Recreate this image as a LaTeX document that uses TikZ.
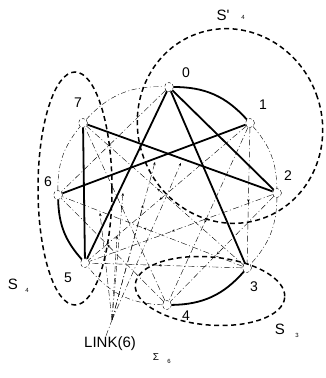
\documentclass[tikz,border=0pt]{standalone}
\usepackage{fontspec}
\setmainfont{Liberation Sans}
\usetikzlibrary{decorations.markings,arrows.meta}
\begin{document}
\begin{tikzpicture}[x=1pt,y=-1pt,
  vtx/.style={circle,draw,densely dashed,line width=0.4pt,minimum size=9pt,inner sep=0pt},
  thickedge/.style={line width=1.8pt},
  thinedge/.style={line width=0.4pt,dash pattern=on 6pt off 2.5pt on 1pt off 2.5pt},
  rim/.style={line width=0.4pt,dash pattern=on 5pt off 2.5pt on 1pt off 2.5pt},
  grp/.style={line width=1.5pt,dash pattern=on 5pt off 3.5pt},
  lbl/.style={font=\fontsize{14}{14}\selectfont,inner sep=0pt},
  glbl/.style={font=\fontsize{15}{15}\selectfont,inner sep=0pt},
  sublbl/.style={font=\fontsize{6}{6}\selectfont,inner sep=0pt},
  marr/.style={postaction={decorate},decoration={markings,mark=at position 0.55 with {\arrow{Stealth[length=3pt,width=2.5pt]}}}},
  tip/.style={-{Stealth[length=3pt,width=2.5pt]}}
]
\useasboundingbox (0,0) rectangle (325,378);

% vertices
\node[vtx] (n0) at (169,87) {};
\node[vtx] (n1) at (250,123) {};
\node[vtx] (n2) at (277,193) {};
\node[vtx] (n3) at (247,268) {};
\node[vtx] (n4) at (167,305) {};
\node[vtx] (n5) at (85,263) {};
\node[vtx] (n6) at (58,195) {};
\node[vtx] (n7) at (83,123) {};

% vertex labels
\node[lbl] (l0) at (186,73) {0};
\node[lbl] (l1) at (263,105) {1};
\node[lbl] (l2) at (288,176) {2};
\node[lbl] (l3) at (254,287) {3};
\node[lbl] (l4) at (186,316) {4};
\node[lbl] (l5) at (68,278) {5};
\node[lbl] (l6) at (48,182) {6};
\node[lbl] (l7) at (78,103) {7};

% thin rim arcs
\draw[rim] (n7) to[bend left=25] (n0);
\draw[rim] (n1) to[bend left=20] (n2);
\draw[rim] (n2) to[bend left=21] (n3);
\draw[rim] (n4) to[bend left=25] (n5);
\draw[rim] (n6) to[bend left=20] (n7);

% thin chords
\foreach \a/\b in {n0/n6,n1/n3,n1/n4,n1/n5,n2/n4,n2/n5,n3/n5,n3/n6,n3/n7,n4/n6,n4/n7}
  \draw[thinedge,marr] (\a) -- (\b);

% thick edges
\draw[thickedge] (n0) to[bend left=24] (n1);
\draw[thickedge] (n3) to[bend left=24] (n4);
\draw[thickedge] (n5) to[bend left=20] (n6);
\draw[thickedge] (n0) -- (n2);
\draw[thickedge] (n0) -- (n3);
\draw[thickedge] (n0) -- (n5);
\draw[thickedge] (n7) -- (n2);
\draw[thickedge] (n7) -- (n5);
\draw[thickedge] (n1) -- (n6);

% group ellipses
\draw[grp] (230,126) ellipse [x radius=92, y radius=98, rotate=20];
\draw[grp] (75,188.5) ellipse [x radius=37, y radius=116.5];
\draw[grp] (210,291) ellipse [x radius=75, y radius=34, rotate=-5];

% group labels
\node[glbl] (sp4) at (223,15) {S\textquotesingle};
\node[sublbl] (sp4i) at (243,17) {4};
\node[glbl] (s4) at (13,284) {S};
\node[sublbl] (s4i) at (27,290) {4};
\node[glbl] (s3) at (280,329) {S};
\node[sublbl] (s3i) at (297,335) {3};

% LINK(6) fan
\node[font=\fontsize{15}{15}\selectfont,inner sep=0pt] (link) at (110,344) {LINK(6)};
\coordinate (fan) at (112,320);
\draw[thinedge] (link.north) ++(-4,-1) coordinate (lk) -- (fan);
\draw[thinedge,tip] (fan) -- (181,163);
\draw[thinedge,tip] (fan) -- (155,162);
\draw[thinedge,tip] (fan) -- (123,193);
\draw[thinedge,tip] (fan) -- (117,236);
\draw[thinedge,tip] (fan) -- (100,213);
\draw[thinedge,tip] (fan) -- (143,205);

% Sigma
\node[font=\fontsize{10}{10}\selectfont,inner sep=0pt] (sig) at (156,357) {Σ};
\node[sublbl] (sigi) at (169,361) {6};
\end{tikzpicture}
\end{document}
